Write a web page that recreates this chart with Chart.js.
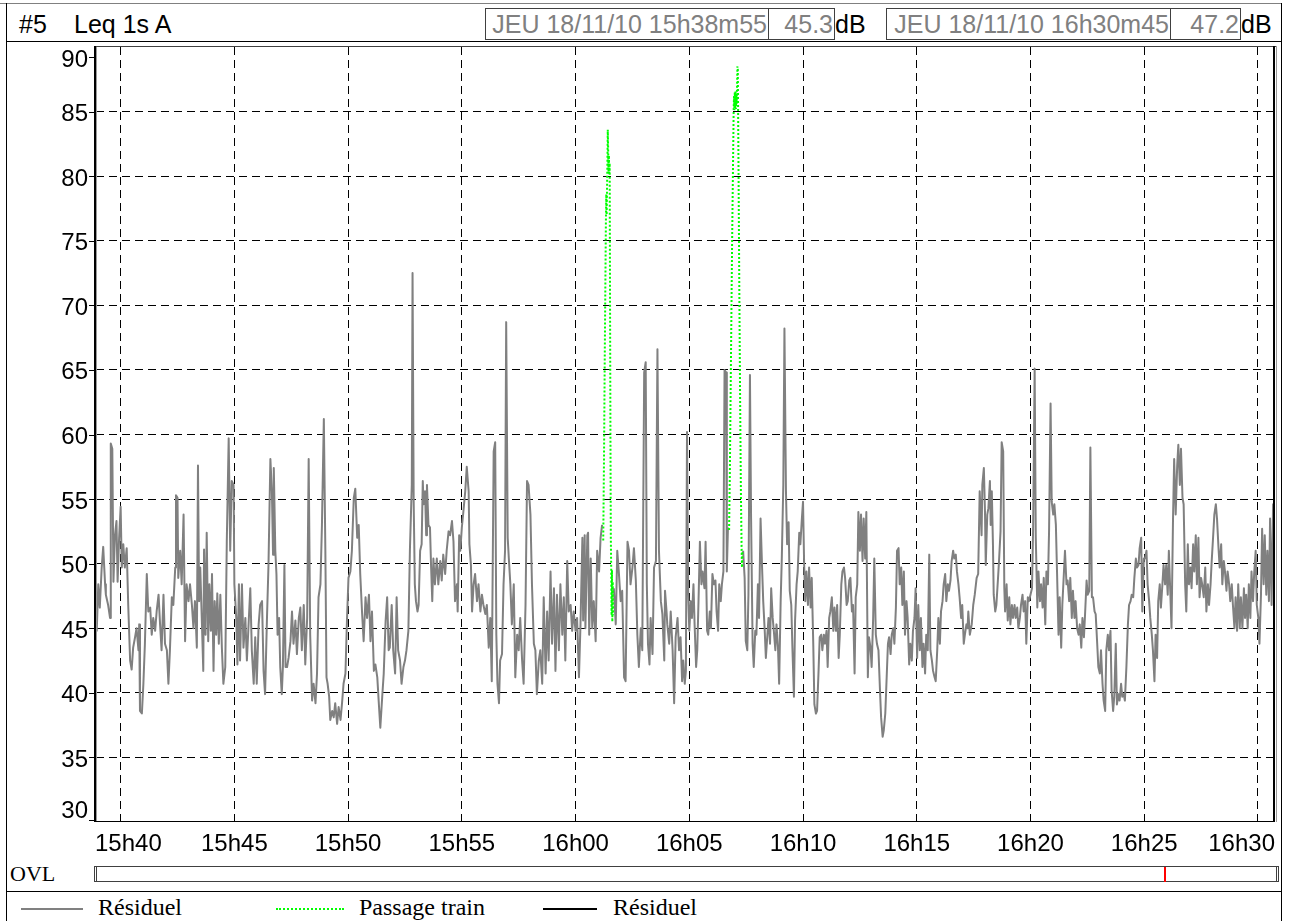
<!DOCTYPE html>
<html>
<head>
<meta charset="utf-8">
<script src="https://cdn.jsdelivr.net/npm/chart.js"></script>
<style>
html,body{margin:0;padding:0;background:#fff;}
body{width:1291px;height:921px;position:relative;overflow:hidden;}
#c{position:absolute;left:0;top:0;z-index:2;}
.ln{position:absolute;z-index:1;}
.hd{position:absolute;top:12px;font:25px/25px "Liberation Sans",Arial,sans-serif;color:#000;white-space:pre;z-index:1;}
.box{position:absolute;top:8px;height:32px;box-sizing:border-box;border:1px solid #404040;color:#808080;text-align:right;font:25px/25px "Liberation Sans",Arial,sans-serif;padding-top:3px;padding-right:1px;white-space:pre;z-index:1;}
.lg{position:absolute;top:895px;font:24px/24px "Liberation Serif","Times New Roman",serif;color:#000;white-space:pre;z-index:1;}
.lgl{position:absolute;top:908px;height:0;z-index:1;}
.ovlt{position:absolute;left:10px;top:863px;font:22px/22px "Liberation Serif","Times New Roman",serif;color:#000;z-index:1;}
.ovlb{position:absolute;left:94px;top:866px;width:1185px;height:16px;box-sizing:border-box;border:1px solid #404040;z-index:1;}
</style>
</head>
<body>
<!-- frame -->
<div class="ln" style="left:0;top:3px;width:1282px;height:1px;background:#808080"></div>
<div class="ln" style="left:6px;top:3px;width:1px;height:918px;background:#000"></div>
<div class="ln" style="left:1281px;top:3px;width:1px;height:918px;background:#000"></div>
<div class="ln" style="left:6px;top:41px;width:1276px;height:1px;background:#000"></div>
<div class="ln" style="left:6px;top:891px;width:1276px;height:1px;background:#000"></div>

<!-- header -->
<div class="hd" style="left:19px">#5</div>
<div class="hd" style="left:74px">Leq 1s A</div>
<div class="box" style="left:485px;width:284px">JEU 18/11/10 15h38m55</div>
<div class="box" style="left:768px;width:67px">45.3</div>
<div class="hd" style="left:835px">dB</div>
<div class="box" style="left:886px;width:285px">JEU 18/11/10 16h30m45</div>
<div class="box" style="left:1170px;width:71px">47.2</div>
<div class="hd" style="left:1241px">dB</div>

<!-- OVL row -->
<div class="ovlt">OVL</div>
<div class="ovlb"></div>
<div class="ln" style="left:96px;top:867px;width:1px;height:14px;background:#404040"></div>
<div class="ln" style="left:1276px;top:867px;width:1px;height:14px;background:#404040"></div>

<!-- legend -->
<div class="lgl" style="left:21px;width:62px;border-top:2px solid #808080"></div>
<div class="lg" style="left:98px">Résiduel</div>
<div class="lgl" style="left:276px;width:68px;border-top:2px dotted #00ff00"></div>
<div class="lg" style="left:359px">Passage train</div>
<div class="lgl" style="left:543px;width:54px;border-top:2px solid #000"></div>
<div class="lg" style="left:613px">Résiduel</div>

<canvas id="c" width="1291" height="921"></canvas>

<script>
// ---- data (time in seconds since 15h00m00, level in dB(A)) ----
const timeStart = 2335;   // 15h38m55
const timeEnd = 5445;     // 16h30m45

const xTickValues = [2400, 2700, 3000, 3300, 3600, 3900, 4200, 4500, 4800, 5100, 5400];
const xTickLabels = ['15h40', '15h45', '15h50', '15h55', '16h00', '16h05', '16h10', '16h15', '16h20', '16h25', '16h30'];
const yTickValues = [30, 35, 40, 45, 50, 55, 60, 65, 70, 75, 80, 85, 90];
const yTickLabels = ['30', '35', '40', '45', '50', '55', '60', '65', '70', '75', '80', '85', '90'];

const ovlTimes = [5155];

const residTimes = [
2335,2337,2341,2345,2350,2354,2359,2361,2367,2372,
2374,2378,2381,2385,2389,2392,2396,2400,2403,2407,
2411,2416,2420,2425,2429,2433,2438,2442,2447,2449,
2451,2456,2460,2464,2469,2473,2478,2482,2486,2491,
2495,2500,2504,2508,2513,2517,2522,2526,2530,2535,
2539,2544,2546,2550,2552,2557,2561,2566,2570,2574,
2579,2583,2588,2592,2596,2601,2604,2607,2610,2614,
2618,2620,2624,2627,2631,2634,2638,2641,2645,2648,
2652,2655,2659,2663,2667,2671,2676,2680,2685,2689,
2693,2698,2700,2705,2708,2712,2715,2720,2724,2729,
2733,2737,2742,2746,2751,2755,2759,2764,2768,2773,
2777,2781,2786,2790,2795,2799,2802,2804,2808,2811,
2814,2818,2821,2825,2828,2832,2835,2839,2843,2848,
2852,2856,2861,2865,2870,2874,2878,2883,2887,2892,
2896,2900,2905,2909,2914,2918,2922,2927,2931,2936,
2940,2943,2946,2950,2953,2958,2962,2966,2971,2975,
2980,2984,2988,2993,2997,3001,3006,3010,3015,3019,
3024,3028,3032,3037,3041,3046,3050,3055,3059,3063,
3068,3072,3077,3081,3085,3090,3094,3099,3103,3107,
3110,3115,3119,3124,3128,3132,3137,3141,3146,3150,
3154,3159,3163,3168,3170,3173,3176,3179,3183,3186,
3190,3194,3197,3199,3203,3206,3208,3212,3216,3219,
3222,3225,3229,3234,3238,3243,3247,3251,3256,3260,
3265,3269,3274,3278,3282,3287,3289,3293,3296,3300,
3304,3309,3313,3318,3320,3324,3327,3331,3335,3340,
3344,3349,3353,3357,3362,3366,3371,3375,3379,3384,
3388,3391,3394,3398,3401,3406,3410,3414,3417,3421,
3424,3428,3432,3437,3441,3446,3450,3454,3459,3463,
3468,3472,3476,3481,3485,3490,3494,3498,3503,3507,
3512,3516,3521,3525,3529,3534,3538,3543,3547,3551,
3556,3560,3565,3569,3573,3578,3582,3587,3591,3595,
3600,3604,3609,3613,3618,3620,3624,3626,3631,3633,
3636,3640,3644,3648,3653,3657,3662,3666,3670,3685,
3701,3706,3710,3714,3719,3723,3728,3732,3737,3741,
3745,3750,3754,3759,3763,3767,3772,3776,3781,3785,
3788,3791,3795,3798,3803,3807,3812,3816,3820,3825,
3829,3834,3836,3840,3842,3847,3851,3856,3860,3864,
3869,3873,3877,3881,3884,3888,3891,3894,3897,3900,
3904,3907,3911,3914,3918,3921,3925,3928,3932,3935,
3940,3943,3947,3950,3954,3957,3961,3965,3969,3972,
3976,3979,3983,3986,3990,3993,3997,3999,4002,4020,
4042,4046,4049,4053,4056,4060,4063,4067,4070,4074,
4077,4081,4084,4088,4092,4095,4099,4102,4106,4109,
4113,4116,4120,4123,4127,4130,4134,4137,4141,4144,
4148,4151,4155,4158,4162,4165,4169,4172,4176,4179,
4183,4186,4190,4193,4197,4200,4203,4206,4209,4213,
4216,4220,4223,4227,4230,4234,4237,4241,4244,4248,
4251,4255,4258,4262,4265,4269,4272,4276,4280,4283,
4287,4290,4294,4297,4301,4304,4308,4311,4315,4318,
4322,4325,4329,4332,4336,4339,4343,4346,4350,4353,
4357,4360,4364,4367,4371,4374,4378,4381,4385,4388,
4392,4395,4399,4403,4406,4410,4413,4417,4420,4424,
4427,4431,4434,4438,4441,4445,4448,4452,4455,4459,
4462,4466,4469,4473,4476,4480,4483,4487,4490,4494,
4497,4501,4504,4508,4511,4515,4518,4522,4525,4529,
4533,4536,4540,4543,4547,4550,4554,4557,4561,4564,
4568,4571,4575,4578,4582,4585,4589,4592,4596,4599,
4603,4606,4610,4613,4617,4620,4624,4627,4631,4634,
4636,4640,4645,4649,4653,4658,4662,4666,4671,4673,
4677,4680,4682,4686,4689,4693,4695,4698,4701,4703,
4707,4710,4714,4717,4721,4724,4728,4731,4733,4737,
4740,4744,4747,4751,4754,4758,4761,4765,4768,4772,
4775,4779,4782,4786,4789,4793,4796,4800,4804,4807,
4811,4814,4818,4821,4825,4828,4832,4835,4839,4842,
4846,4849,4853,4856,4860,4863,4867,4870,4874,4877,
4881,4884,4888,4891,4895,4898,4902,4905,4909,4912,
4916,4919,4923,4927,4930,4934,4937,4941,4944,4948,
4951,4955,4958,4962,4965,4969,4972,4976,4979,4983,
4986,4990,4993,4997,5000,5004,5007,5011,5014,5018,
5021,5025,5028,5032,5035,5039,5042,5046,5049,5053,
5057,5060,5064,5067,5071,5074,5078,5081,5085,5088,
5092,5095,5099,5102,5106,5109,5113,5116,5120,5123,
5127,5130,5134,5137,5141,5144,5148,5151,5155,5158,
5162,5165,5169,5172,5176,5179,5183,5187,5190,5194,
5197,5201,5204,5208,5211,5215,5218,5222,5225,5229,
5232,5236,5239,5243,5246,5250,5253,5257,5261,5264,
5268,5271,5275,5278,5281,5285,5289,5292,5296,5299,
5303,5306,5310,5313,5317,5320,5324,5327,5331,5334,
5338,5341,5345,5348,5352,5355,5359,5363,5366,5369,
5373,5376,5380,5383,5387,5390,5394,5397,5401,5404,
5408,5411,5415,5418,5422,5425,5429,5432,5436,5440,
5445
];

const residLevels = [
45.3,44.8,48.4,46.6,49.7,51.3,48.4,47.6,46.8,45.8,
59.3,58.9,48.6,52.2,53.3,48.6,52,54.4,49.7,51.5,
49.7,51.2,46.8,42.5,41.8,43.5,44.3,45,43.3,45.3,
38.6,38.4,40.7,43.8,49.2,46.3,46.6,44.5,45.8,44.8,
46.3,47.6,45.3,43.3,47.6,43.8,43.3,40.7,43.3,47.4,
46.8,49.7,55.3,55.1,48.9,51,48.4,53.8,44,48.4,
47.1,48.4,46.8,45,47.1,43.5,57.6,47.1,49.7,45.8,
41.7,51.1,44.5,52.4,44,48.4,44.8,49.2,41.7,47.1,
44.5,47.7,43.8,47.6,43.5,40.7,42,51.7,59.7,51,
56.4,56.1,48.4,45.8,42.2,48.4,42.5,48.4,43.5,45.8,
42.5,45,48.1,43.3,40.7,44.3,40.7,45.3,46.8,47.1,
41.7,39.9,45.8,49.9,58.1,55.6,50.7,57.4,51,49.2,
44.5,45.8,42,39.9,42,49.9,42,42,42.7,44,
46.3,43.8,45.6,43,45.8,46.6,43.3,46.8,42.2,45.8,
58.1,44.5,39.4,40.7,39.2,41.5,47.4,48.4,53,61.2,
51,41.2,40.7,39.7,37.9,38.6,38.1,39.2,37.6,38.9,
37.9,39.2,40.7,41.5,45.6,48.9,49.4,51,55.1,55.8,
52,53,49.2,46.1,44,47.4,45.8,47.6,44,46.3,
41.7,42.2,41.2,39.2,37.3,39.7,41.5,45.6,47.4,43.3,
43.5,46.8,43.3,41.5,47.4,43.3,42.5,40.7,42,42.5,
43.3,44.8,51,56.1,72.5,54.8,48.4,47.1,46.3,46.8,
51,51.5,56.4,54.6,55.6,52.2,56.1,53,52.8,49.7,
47.1,50.4,48.4,50.4,48.4,50.2,48.7,50.7,49.2,51,
52.5,52.2,53.3,51.7,47.1,48.4,46.3,52.2,51,52.8,
54,55.6,57.5,55.6,51.5,49.9,46.3,48.4,49.2,47.1,
48.4,46.3,47.6,46.8,46.1,46.8,43.5,45.8,40.9,58.7,
59.4,44.5,40.7,39.2,42.5,43,48.4,51,68.7,52,
50.4,48.4,45.3,48.4,41.2,44.5,43.3,45.8,42.5,40.7,
46.8,56.4,56.1,53.8,48.4,43.8,43.3,39.9,42.5,43.3,
40.7,47.4,41.5,46.3,42.5,49.4,43.8,48.1,41.7,47.6,
43.3,48.4,44.5,47.4,42.5,50.2,46.3,46.8,44.8,46.3,
44.8,45.8,41.2,45.3,52,45.6,52.2,45,52.2,52.4,
44.5,50.4,45,47.1,44,51,49.4,52,53,null,
48.1,45.3,51,49.4,47.1,47.9,41.2,40.9,51.7,51,
48.4,49.7,51.2,48.7,44.5,42,45,43.3,64.8,65.6,
48.4,43.8,42.2,45.8,43,49.7,50.2,66.6,51,47.1,
46.1,42.5,47.9,46.3,45.3,43.8,46.3,43.3,39.2,44.3,
45.8,43.3,44.3,40.9,42.5,40.7,41.7,60.2,47.9,44.8,
47.1,45.8,48.4,45.3,42,43.3,47.9,51.7,48.4,49.4,
48.1,51.7,44.8,44.5,46.3,45,49.2,48.4,48.7,46.3,
44.8,48.4,47.1,48.4,49.4,65,64.8,49.4,52.8,null,
51,48.9,44,43.3,47.6,64.6,53.5,43.8,42,44.8,
44.5,48.4,45.8,53.5,49.7,47.1,44.8,42.7,44.5,45.8,
43.8,48.1,45.8,44.8,43.3,45.3,43.5,40.7,47.1,50.4,
56.1,68.2,55.6,51.5,53.2,47.9,46.8,43.5,39.7,45.6,
48.4,49.4,52.4,51.5,53.5,54.8,49.9,47.1,49.4,46.8,
49.7,46.6,48.9,43.8,39.1,38.4,38.6,41.7,44.3,44.5,
43.3,44.5,43.8,44.8,42,45.8,46.3,47.4,44.8,46.6,
44.8,46.8,42.7,44.5,48.4,49.4,49.7,48.9,46.8,47.1,
48.7,48.9,46.3,46.8,41.5,47.4,48.4,54,51,53.8,
50.2,53.5,50.4,54,41.2,44.3,43.5,42,45.8,50.4,
44.5,43.8,43.3,40.2,38.1,36.6,37.1,38.4,40.7,43.8,
44.3,43,44.5,45,43.8,46.6,51,51.2,48.4,49.7,
46.8,49.4,44.5,47.1,45.8,42.2,43.8,42.5,44.8,45.8,
48.1,42.7,46.8,43.3,45.8,42,43.8,41.5,44.5,43.3,
50.7,43.3,42.5,41.7,41.2,40.9,43.3,45.8,43.8,46.3,
47.1,48.4,49.2,47.1,48.4,47.9,48.7,50.2,51,50.4,
50.7,49.4,48.4,47.4,45.8,46.8,43.8,44.5,45.3,45,
46.3,44.5,45.3,46.8,47.6,48.9,49.2,55.6,52.2,56.1,
57.4,54,49.9,53.8,54.3,56.4,53,55.6,51.5,47.6,
46.3,46.8,48.7,50.2,52.5,59.4,58.7,48.1,46.3,48.4,
45.6,47.4,45.3,46.8,45.8,46.8,45.8,46.6,45,45.8,
46.8,47.6,46.3,47.1,43.8,47.4,47.1,47.6,48.1,52.8,
65.1,52,46.6,49.4,47.1,48.4,46.6,48.9,45.3,49.4,
48.4,52.5,62.4,54.8,53.8,54.6,53,49.4,44.5,47.4,
43.5,46.8,49.2,51,48.4,48.7,47.1,48.9,45.8,47.9,
45.8,47.1,45,44.5,45.3,43.5,45.8,44.3,46.1,48.7,
47.6,47.9,59,47.4,47.4,46.3,46.1,43.8,42,41.5,
43.3,40.7,39.4,38.6,43.3,44.5,43.3,44.8,40.2,38.6,
39.7,43.8,39.1,39.9,39.4,40.7,39.7,39.9,39.4,42,
45.3,46.8,47.1,47.6,47.4,48.9,50.4,49.7,49.9,51.2,
52,46.3,50.4,50.4,51,48.4,47.1,45.8,44.5,43.3,
40.9,44.5,42.7,47.1,48.4,46.6,48.4,49.9,48.4,49.9,
47.6,51,47.6,45,53.5,58.1,53.8,57.6,59.2,56.1,
58.9,55.1,54.6,48.4,46.3,51.5,48.4,49.7,48.1,51.5,
49.4,52.2,48.4,52,47.4,48.9,48.4,47.4,49.7,46.3,
48.4,46.8,48.4,50.2,51.7,53.8,54.6,53.5,51.2,49.7,
51.5,48.4,50.2,49.4,47.9,49.4,48.4,47.1,48.4,46.8,
45,47.4,44.8,48.4,45,47.4,45,48.1,45.8,47.6,
45,48.4,45.8,49.4,47.1,49.2,51,46.8,45.8,43.8,
47.6,52.7,48.4,52.2,47.6,51,47.1,53.5,46.8,54.6,
47.2
];

const trainTimes = [
3673,3675,3677,3679,3680,3681,3682,3683,3684,3685,3686,3687,3688,3689,3690,3691,3692,3693,3694,3695,3696,3697,3698,3699,
3850,
4005,4007,4009,4011,4013,4015,4017,4018,4019,4020,4021,4022,4023,4024,4025,4026,4027,4028,4030,4032,4034,4036,4038,4039,4040
];
const trainLevels = [
51.8,58,66,73,76.5,78.6,77,79,81,83.6,82,80.3,81.6,80.1,81,70,60,52,49.8,46,49.5,45.5,48.6,46,
null,
52.6,57,63,69,75,80,85,86.2,85.1,86.5,85.3,86.6,85.2,86.3,85.6,87,88.5,88.3,80,71,63,56,51.2,49.7,51
];

const toPoints = (ts, vs) => ts.map((t, i) => ({x: t, y: vs[i]}));

const framePlugin = {
  id: 'frame',
  afterDraw(chart) {
    const {ctx, chartArea: a, scales: {x, y}} = chart;
    ctx.save();
    // plot frame
    ctx.fillStyle = '#404040';
    ctx.fillRect(a.left - 2, a.top - 1, a.right - a.left + 4, 1);
    ctx.fillStyle = '#000';
    ctx.fillRect(a.left - 2, a.top - 1, 2, a.bottom - a.top + 1);
    ctx.fillRect(a.right - 2, a.top - 1, 2, a.bottom - a.top + 1);
    ctx.fillRect(a.left - 2, a.bottom - 1, a.right - a.left + 2, 1);
    ctx.fillStyle = '#9a9a9a';
    ctx.fillRect(a.left, a.top, 1, a.bottom - a.top - 1);
    ctx.fillRect(a.right + 1, a.top - 1, 1, a.bottom - a.top + 1);
    // y labels + tick marks
    ctx.fillStyle = '#000';
    ctx.font = '24px "Liberation Sans", Arial, sans-serif';
    ctx.textAlign = 'right';
    ctx.textBaseline = 'alphabetic';
    yTickValues.forEach((v, i) => {
      const py = y.getPixelForValue(v);
      const base = Math.min(Math.max(py + 9.5, a.top + 20), a.bottom - 4);
      ctx.fillText(yTickLabels[i], a.left - 8, base);
      const ty = Math.round(Math.min(Math.max(py, a.top + 10), a.bottom - 2));
      ctx.fillRect(a.left - 7, ty, 5, 1);
    });
    // x labels
    ctx.textAlign = 'center';
    xTickValues.forEach((v, i) => {
      const w = ctx.measureText(xTickLabels[i]).width;
      let cx = x.getPixelForValue(v);
      cx = Math.min(Math.max(cx, a.left - 1 + w / 2), a.right - w / 2);
      ctx.fillText(xTickLabels[i], cx, a.bottom + 29);
    });
    // OVL markers
    ctx.fillStyle = '#ff0000';
    ovlTimes.forEach(t => {
      const px = Math.round(x.getPixelForValue(t));
      ctx.fillRect(px - 1, a.bottom + 45, 2, 15);
    });
    ctx.restore();
  }
};

new Chart(document.getElementById('c'), {
  type: 'line',
  data: {
    datasets: [
      {label: 'Résiduel', data: toPoints(residTimes, residLevels), borderColor: '#808080', borderWidth: 2,
       pointRadius: 0, tension: 0, spanGaps: false, borderJoinStyle: 'round', order: 2},
      {label: 'Passage train', data: toPoints(trainTimes, trainLevels), borderColor: '#00ff00', borderWidth: 2,
       borderDash: [2, 2], pointRadius: 0, tension: 0, spanGaps: false, order: 1},
      {label: 'Résiduel', data: [], borderColor: '#000000', borderWidth: 2, pointRadius: 0, order: 3}
    ]
  },
  options: {
    responsive: false,
    animation: false,
    devicePixelRatio: 1,
    events: [],
    layout: {padding: {left: 8, right: 16, top: 47, bottom: 59}},
    plugins: {legend: {display: false}, tooltip: {enabled: false}},
    scales: {
      x: {
        type: 'linear', min: timeStart, max: timeEnd,
        afterBuildTicks: s => { s.ticks = xTickValues.map(v => ({value: v})); },
        afterFit: s => { s.height = 40; },
        ticks: {display: false},
        grid: {color: '#000', lineWidth: 1, drawTicks: false},
        border: {display: false, dash: [8, 5]}
      },
      y: {
        type: 'linear', min: 30, max: 90,
        afterBuildTicks: s => { s.ticks = yTickValues.map(v => ({value: v})); },
        afterFit: s => { s.width = 88; },
        ticks: {display: false},
        grid: {
          color: c => (c.tick && (c.tick.value === 30 || c.tick.value === 90)) ? 'rgba(0,0,0,0)' : '#000',
          lineWidth: 1, drawTicks: false
        },
        border: {display: false, dash: [8, 5]}
      }
    }
  },
  plugins: [framePlugin]
});
</script>
</body>
</html>
